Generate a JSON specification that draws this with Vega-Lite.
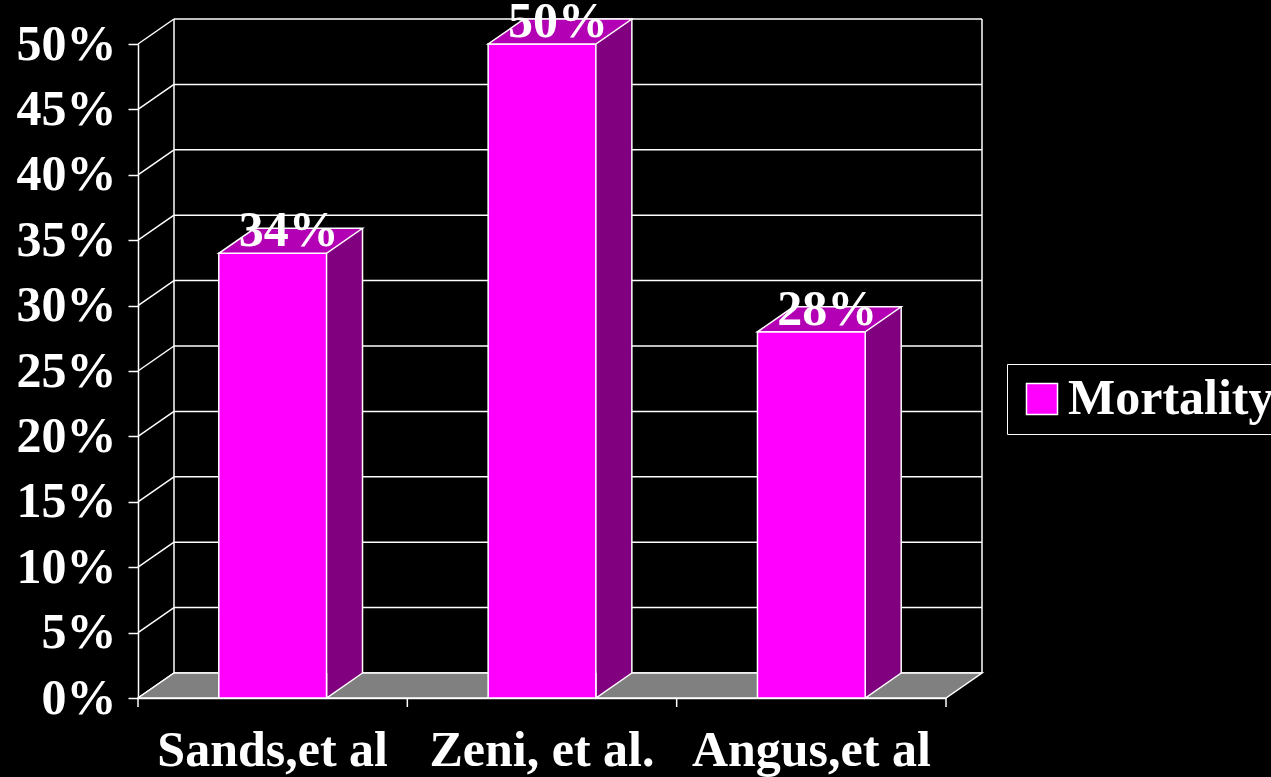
{
  "$schema": "https://vega.github.io/schema/vega-lite/v6.json",
  "width": 808,
  "height": 654,
  "autosize": {"type": "none"},
  "padding": {"left": 138, "top": 44, "right": 325, "bottom": 79},
  "background": "black",
  "config": {"view": {"stroke": null}, "font": "Liberation Serif"},
  "datasets": {
    "studies": [
      {"study": "Sands,et al", "mortality": 0.34},
      {"study": "Zeni, et al.", "mortality": 0.50},
      {"study": "Angus,et al", "mortality": 0.28}
    ],
    "ticks": [
      {"v": 0}, {"v": 0.05}, {"v": 0.1}, {"v": 0.15}, {"v": 0.2}, {"v": 0.25},
      {"v": 0.3}, {"v": 0.35}, {"v": 0.4}, {"v": 0.45}, {"v": 0.5}
    ],
    "one": [{"s": "frame"}]
  },
  "resolve": {"scale": {"x": "independent"}},
  "layer": [
    {
      "data": {"name": "ticks"},
      "mark": {"type": "rule", "color": "white", "strokeWidth": 1.5, "xOffset": 36, "x2Offset": 36, "yOffset": -25},
      "encoding": {
        "x": {"datum": 0, "type": "quantitative", "scale": {"domain": [0, 3]}, "axis": null},
        "x2": {"datum": 3},
        "y": {
          "field": "v", "type": "quantitative",
          "scale": {"domain": [0, 0.5], "nice": false},
          "axis": {
            "title": null, "values": [0, 0.05, 0.1, 0.15, 0.2, 0.25, 0.3, 0.35, 0.4, 0.45, 0.5],
            "format": ".0%", "grid": false, "tickSize": 10, "labelPadding": 12,
            "domainColor": "white", "tickColor": "white", "labelColor": "white",
            "domainWidth": 1.5, "tickWidth": 1.5,
            "labelFont": "Liberation Serif", "labelFontSize": 50, "labelFontWeight": "bold",
            "labelLimit": 400
          }
        }
      }
    },
    {
      "data": {"name": "ticks"},
      "mark": {"type": "rule", "color": "white", "strokeWidth": 1.5, "x2Offset": 36, "y2Offset": -25},
      "encoding": {
        "x": {"datum": 0, "type": "quantitative", "scale": {"domain": [0, 3]}, "axis": null},
        "x2": {"datum": 0},
        "y": {"field": "v", "type": "quantitative", "title": null},
        "y2": {"field": "v"}
      }
    },
    {
      "data": {"name": "one"},
      "mark": {"type": "rule", "color": "white", "strokeWidth": 1.5, "xOffset": 36, "yOffset": -25, "y2Offset": -25},
      "encoding": {
        "x": {"datum": 0, "type": "quantitative", "scale": {"domain": [0, 3]}, "axis": null},
        "y": {"datum": 0, "type": "quantitative"},
        "y2": {"datum": 0.5}
      }
    },
    {
      "data": {"name": "one"},
      "mark": {"type": "rule", "color": "white", "strokeWidth": 1.5, "xOffset": 36, "yOffset": -25, "y2Offset": -25},
      "encoding": {
        "x": {"datum": 3, "type": "quantitative", "scale": {"domain": [0, 3]}, "axis": null},
        "y": {"datum": 0, "type": "quantitative"},
        "y2": {"datum": 0.5}
      }
    },
    {
      "data": {"name": "one"},
      "mark": {"type": "rule", "color": "white", "strokeWidth": 1.5, "y2Offset": 9},
      "encoding": {
        "x": {"datum": 3, "type": "quantitative", "scale": {"domain": [0, 3]}, "axis": null},
        "y": {"datum": 0, "type": "quantitative"},
        "y2": {"datum": 0}
      }
    },
    {
      "data": {"name": "one"},
      "mark": {
        "type": "point", "shape": "M0,0 L808,0 L844,-25 L36,-25 Z", "size": 4,
        "filled": true, "fill": "#808080", "stroke": "white", "strokeWidth": 1.5, "opacity": 1
      },
      "encoding": {
        "x": {"datum": 0, "type": "quantitative", "scale": {"domain": [0, 3]}, "axis": null},
        "y": {"datum": 0, "type": "quantitative"}
      }
    },
    {
      "data": {"name": "studies"},
      "layer": [
        {
          "mark": {"type": "bar", "width": 36, "xOffset": 71.867, "yOffset": -25, "y2Offset": -25, "fill": "#800080", "strokeWidth": 0},
          "encoding": {
            "x": {
              "field": "study", "type": "nominal", "sort": null,
              "scale": {"paddingInner": 0.6, "paddingOuter": 0.3},
              "axis": {
                "title": null, "labelAngle": 0, "ticks": false, "labelPadding": 27,
                "domainColor": "white", "labelColor": "white", "domainWidth": 1.5,
                "labelFont": "Liberation Serif", "labelFontSize": 50, "labelFontWeight": "bold",
                "labelLimit": 400
              }
            },
            "y": {"field": "mortality", "type": "quantitative", "title": null}
          }
        },
        {
          "mark": {"type": "rule", "color": "white", "strokeWidth": 1.5, "xOffset": -134.667, "y2Offset": 9},
          "encoding": {
            "x": {"field": "study", "type": "nominal", "sort": null},
            "y": {"datum": 0, "type": "quantitative"},
            "y2": {"datum": 0}
          }
        },
        {
          "mark": {
            "type": "point", "shape": "M89.867,-25 L53.867,0 L53.867,-25", "size": 4,
            "filled": true, "fill": "#800080", "stroke": "white", "strokeWidth": 1.5, "opacity": 1
          },
          "encoding": {
            "x": {"field": "study", "type": "nominal", "sort": null},
            "y": {"datum": 0, "type": "quantitative"}
          }
        },
        {
          "mark": {"type": "rule", "color": "white", "strokeWidth": 1.5, "xOffset": 89.867, "yOffset": -25, "y2Offset": -25},
          "encoding": {
            "x": {"field": "study", "type": "nominal", "sort": null},
            "y": {"field": "mortality", "type": "quantitative", "title": null},
            "y2": {"datum": 0}
          }
        },
        {
          "mark": {"type": "bar", "stroke": "white", "strokeWidth": 1.5, "opacity": 1},
          "encoding": {
            "x": {"field": "study", "type": "nominal", "sort": null},
            "y": {"field": "mortality", "type": "quantitative", "title": null},
            "color": {
              "datum": "Mortality", "type": "nominal",
              "scale": {"range": ["#ff00ff"]},
              "legend": {
                "orient": "none", "legendX": 869, "legendY": 320, "title": null,
                "symbolType": "square", "symbolSize": 961, "symbolStrokeColor": "white",
                "symbolStrokeWidth": 1.5, "symbolOpacity": 1,
                "labelFont": "Liberation Serif", "labelFontSize": 50, "labelFontWeight": "bold",
                "labelColor": "white", "labelOffset": 1, "labelLimit": 400,
                "padding": 10, "strokeColor": "white"
              }
            }
          }
        },
        {
          "mark": {
            "type": "point", "shape": "M-53.867,0 L53.867,0 L89.867,-25 L-17.867,-25 Z", "size": 4,
            "filled": true, "fill": "#b400b4", "stroke": "white", "strokeWidth": 1.5, "opacity": 1
          },
          "encoding": {
            "x": {"field": "study", "type": "nominal", "sort": null},
            "y": {"field": "mortality", "type": "quantitative", "title": null}
          }
        },
        {
          "mark": {
            "type": "text", "dx": 16, "dy": -7, "baseline": "alphabetic", "align": "center",
            "font": "Liberation Serif", "fontSize": 50, "fontWeight": "bold", "color": "white"
          },
          "encoding": {
            "x": {"field": "study", "type": "nominal", "sort": null},
            "y": {"field": "mortality", "type": "quantitative", "title": null},
            "text": {"field": "mortality", "type": "quantitative", "format": ".0%"}
          }
        }
      ]
    }
  ]
}
